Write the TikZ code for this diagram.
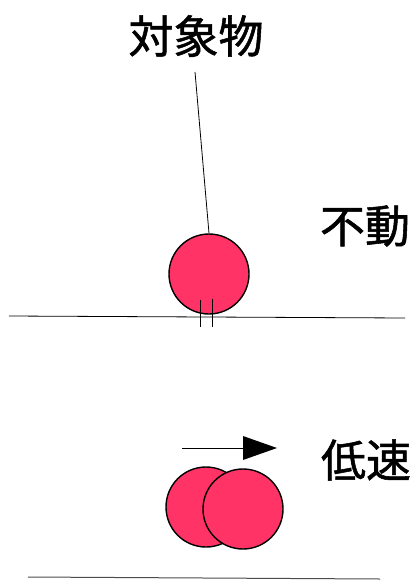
\documentclass[tikz,border=0pt]{standalone}
\usepackage{fontspec}
\newfontfamily\cjk[FakeBold=1.2]{Noto Sans CJK JP}
\definecolor{ballred}{RGB}{255,51,102}
\begin{document}
\begin{tikzpicture}[x=1pt,y=-1pt,
  lbl/.style={font=\cjk\fontsize{45}{48}\selectfont, inner sep=0pt},
  ball/.style={circle, draw=black, line width=1.4pt, fill=ballred, minimum size=80pt, inner sep=0pt},
  thin/.style={line width=0.8pt}]
\useasboundingbox (0,0) rectangle (417,580);
\node[lbl] (obj) at (196,36) {対象物};
\node[lbl] (fudo) at (365,226) {不動};
\node[lbl] (teisoku) at (366,460) {低速};
% ground line top
\coordinate (g1a) at (9,316);
\coordinate (g1b) at (405,318);
\draw[thin] (g1a) -- (g1b);
% top ball
\node[ball] (b1) at (209,274) {};
\coordinate (lead) at (195,72);
\draw[thin] (lead) -- (b1.north);
\coordinate (t1a) at (200,300);
\coordinate (t1b) at (200,327);
\coordinate (t2a) at (212,299);
\coordinate (t2b) at (212,327);
\draw[thin] (t1a) -- (t1b);
\draw[thin] (t2a) -- (t2b);
% arrow
\coordinate (aS) at (182,448);
\coordinate (aE) at (244,448);
\coordinate (tip) at (277,448);
\draw[thin] (aS) -- (aE);
\fill (243,436) -- (tip) -- (243,460) -- cycle;
% bottom balls
\node[ball] (b2) at (206,507) {};
\node[ball] (b3) at (243,509) {};
% bottom line
\coordinate (g2a) at (28,577);
\coordinate (g2b) at (380,579);
\draw[line width=1pt, black!70] (g2a) -- (g2b);
\end{tikzpicture}
\end{document}
